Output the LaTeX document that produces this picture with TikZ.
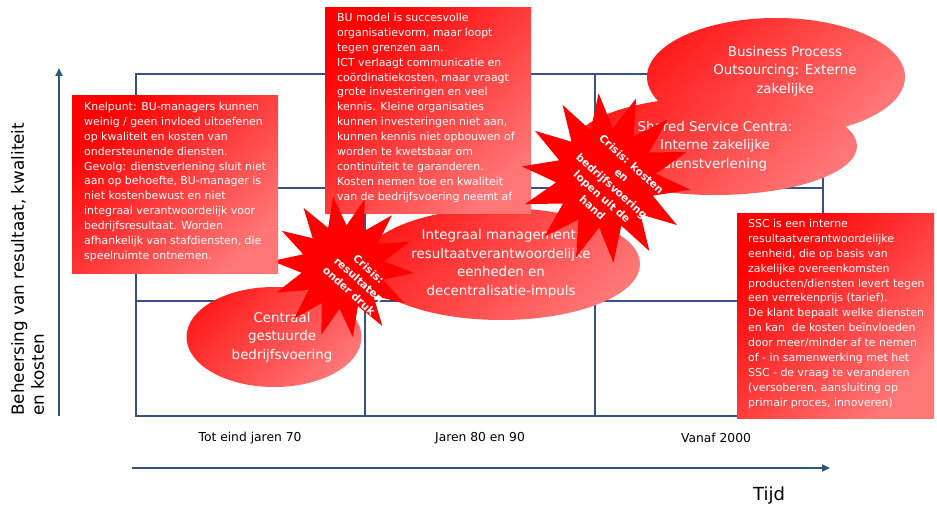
\documentclass[tikz,border=0pt]{standalone}
\usepackage{fontspec}
\setmainfont{DejaVu Sans}
\usetikzlibrary{shapes.geometric,arrows.meta}
\definecolor{gridc}{RGB}{55,80,135}
\definecolor{axisc}{RGB}{47,85,120}
\definecolor{lightred}{RGB}{255,118,118}
\definecolor{ellred}{RGB}{255,30,30}
\definecolor{elllight}{RGB}{255,118,118}
\begin{document}
\begin{tikzpicture}[x=1pt,y=-1pt,
  gridline/.style={draw=gridc,line width=1.1pt},
  axisarrow/.style={draw=axisc,line width=2pt,-{Triangle[length=8pt,width=7pt]}},
  infobox/.style={rectangle,anchor=north west,top color=red,bottom color=lightred,shading angle=45,inner sep=0pt},
  infotext/.style={anchor=north west,text=white,align=left,inner sep=0pt,font=\fontsize{10.9}{14.9}\selectfont},
  phase/.style={ellipse,inner sep=0pt,top color=ellred,bottom color=elllight,shading angle=45,
     text=white,align=center,font=\fontsize{13.4}{18.6}\selectfont},
  phasetext/.style={text=white,align=center,font=\fontsize{13.4}{18.6}\selectfont},
  burst/.style={star,star points=14,star point ratio=1.7,fill=red,draw=none,inner sep=0pt},
  bursttext/.style={text=white,align=center,font=\bfseries\fontsize{10.6}{14.6}\selectfont,rotate=-42},
  axislabel/.style={font=\fontsize{12.3}{14}\selectfont,text=black}]
\useasboundingbox (0,0) rectangle (937,508);
% grid
\draw[gridline] (136,74) rectangle (823,416);
\draw[gridline] (365,74) -- (365,416);
\draw[gridline] (595,74) -- (595,416);
\draw[gridline] (136,188) -- (823,188);
\draw[gridline] (136,301) -- (823,301);
% axes
\coordinate (yfrom) at (59,416);
\coordinate (yto) at (59,68);
\coordinate (xfrom) at (132,468);
\coordinate (xto) at (830,468);
\draw[axisarrow] (yfrom) -- (yto);
\draw[axisarrow] (xfrom) -- (xto);
\node[rotate=90,anchor=north west,align=left,inner sep=0pt,font=\fontsize{16.8}{20}\selectfont] (ylab) at (11,416)
  {Beheersing van resultaat, kwaliteit\\en kosten};
\node[axislabel] (c1) at (250,438) {Tot eind jaren 70};
\node[axislabel] (c2) at (480,438) {Jaren 80 en 90};
\node[axislabel] (c3) at (716,438) {Vanaf 2000};
\node[font=\fontsize{18}{20}\selectfont] (tijd) at (769,496) {Tijd};
% ellipses
\node[phase,minimum width=175pt,minimum height=100pt] (centraal) at (274,337)
  {\hspace*{16pt}Centraal\\\hspace*{16pt}gestuurde\\\hspace*{16pt}bedrijfsvoering};
\node[phase,minimum width=278pt,minimum height=112pt] (integraal) at (501,264)
  {Integraal management:\\resultaatverantwoordelijke\\eenheden en\\decentralisatie-impuls};
\node[phase,minimum width=258pt,minimum height=118pt] (bpo) at (776,77) {};
\node[phasetext] (bpot) at (785,71) {Business Process\\Outsourcing: Externe\\zakelijke};
\node[phase,minimum width=284pt,minimum height=98pt] (ssc) at (715,146)
  {Shared Service Centra:\\Interne zakelijke\\dienstverlening};
% BU box
\node[infobox,minimum width=206pt,minimum height=206pt] (bubox) at (325,7) {};
\node[infotext] (butext) at (337,13)
  {BU model is succesvolle\\organisatievorm, maar loopt\\tegen grenzen aan.\\ICT verlaagt communicatie en\\coördinatiekosten, maar vraagt\\grote investeringen en veel\\kennis. Kleine organisaties\\kunnen investeringen niet aan,\\kunnen kennis niet opbouwen of\\worden te kwetsbaar om\\continuïteit te garanderen.\\Kosten nemen toe en kwaliteit\\van de bedrijfsvoering neemt af};
% crisis 1
\node[burst,minimum size=142pt,rotate=8] (star1) at (343,267) {};
\node[bursttext] (star1t) at (359,280) {Crisis:\\resultaten\\onder druk};
% Knelpunt box
\node[infobox,minimum width=206pt,minimum height=178pt] (knelbox) at (72,95) {};
\node[infotext] (kneltext) at (84,102)
  {Knelpunt: BU-managers kunnen\\weinig / geen invloed uitoefenen\\op kwaliteit en kosten van\\ondersteunende diensten.\\Gevolg: dienstverlening sluit niet\\aan op behoefte, BU-manager is\\niet kostenbewust en niet\\integraal verantwoordelijk voor\\bedrijfsresultaat. Worden\\afhankelijk van stafdiensten, die\\speelruimte ontnemen.};
% crisis 2
\node[burst,minimum size=170pt,rotate=5] (star2) at (606,178) {};
\node[bursttext] (star2t) at (612,186) {Crisis: kosten\\en\\bedrijfsvoering\\lopen uit de\\hand};
% SSC box
\node[infobox,minimum width=197pt,minimum height=205pt] (sscbox) at (737,213) {};
\node[infotext] (ssctext) at (748,219)
  {SSC is een interne\\resultaatverantwoordelijke\\eenheid, die op basis van\\zakelijke overeenkomsten\\producten/diensten levert tegen\\een verrekenprijs (tarief).\\De klant bepaalt welke diensten\\en kan\ \ de kosten beïnvloeden\\door meer/minder af te nemen\\of - in samenwerking met het\\SSC - de vraag te veranderen\\(versoberen, aansluiting op\\primair proces, innoveren)};
\end{tikzpicture}
\end{document}
